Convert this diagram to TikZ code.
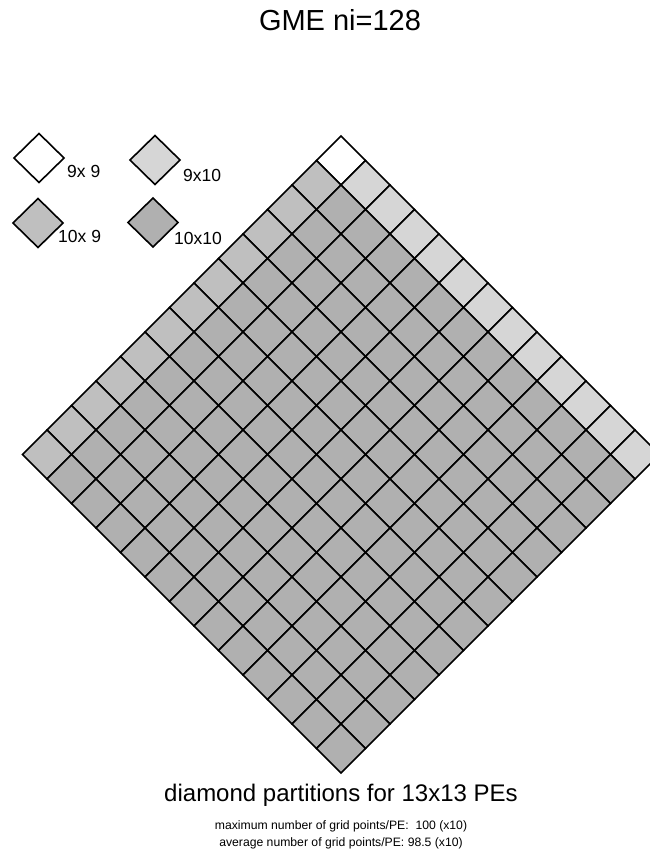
\documentclass[tikz,border=0pt]{standalone}
\usepackage{fontspec}
\setmainfont{Liberation Sans}
\usetikzlibrary{positioning}
\tikzset{
  cell/.style={draw=black, line width=1.6pt, line join=miter},
  txt/.style={inner sep=0pt},
  lab/.style={inner sep=0pt, anchor=west, font=\fontsize{17.5}{20}\selectfont}
}
\colorlet{tone99}{white}
\colorlet{tone910}{black!16}
\colorlet{tone109}{black!25}
\colorlet{tone1010}{black!31}
\begin{document}
\begin{tikzpicture}[x=1pt, y=-1pt]
\useasboundingbox (0,0) rectangle (650,857);
\clip (0,0) rectangle (650,857);
% titre
\node[txt] (title) at (340,20) {\fontsize{29}{34}\selectfont GME ni=128};
% legende
\draw[cell, fill=tone99] (39,133.5) -- ++(25,24.5) -- ++(-25,24.5) -- ++(-25,-24.5) -- cycle;
\node[lab] (l99) at (67,171.5) {9x 9};
\draw[cell, fill=tone910] (155,135.5) -- ++(25,24.5) -- ++(-25,24.5) -- ++(-25,-24.5) -- cycle;
\node[lab] (l910) at (183,175) {9x10};
\draw[cell, fill=tone109] (38,198.5) -- ++(25,24.5) -- ++(-25,24.5) -- ++(-25,-24.5) -- cycle;
\node[lab] (l109) at (58,236.5) {10x 9};
\draw[cell, fill=tone1010] (153,198) -- ++(25,24.5) -- ++(-25,24.5) -- ++(-25,-24.5) -- cycle;
\node[lab] (l1010) at (174,238) {10x10};
% grille 13x13
\def\h{24.5}
\foreach \i in {0,...,12}
  \foreach \j in {0,...,12} {
    \ifnum\i=0
      \ifnum\j=0 \def\tone{tone99}\else \def\tone{tone109}\fi
    \else
      \ifnum\j=0 \def\tone{tone910}\else \def\tone{tone1010}\fi
    \fi
    \draw[cell, fill=\tone] ({341+(\i-\j)*\h},{136+(\i+\j)*\h})
      -- ++(\h,\h) -- ++(-\h,\h) -- ++(-\h,-\h) -- cycle;
  }
% legendes du bas
\node[txt] (caption) at (341,795) {\fontsize{24}{28}\selectfont diamond partitions for 13x13 PEs};
\node[txt] (maxpe) at (341,826) {\fontsize{12.2}{14}\selectfont maximum number of grid points/PE:~ 100 (x10)};
\node[txt, below=6pt of maxpe] (avgpe) {\fontsize{12.2}{14}\selectfont average number of grid points/PE: 98.5 (x10)};
\end{tikzpicture}
\end{document}
